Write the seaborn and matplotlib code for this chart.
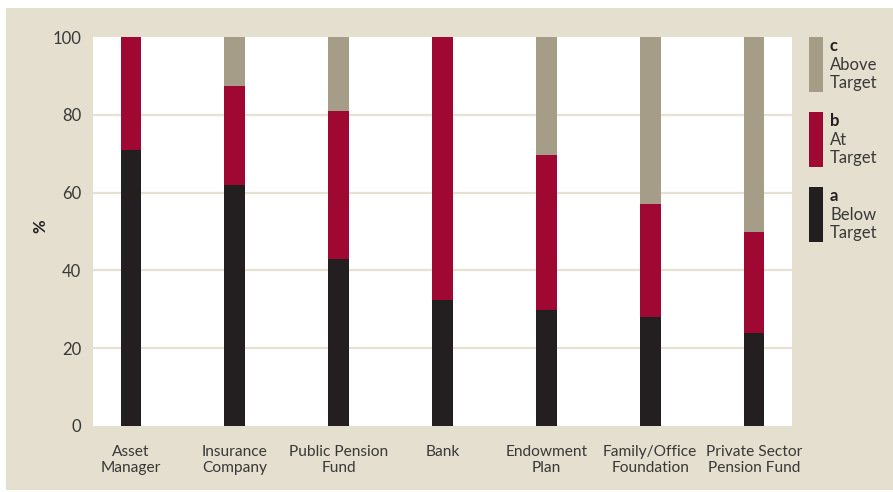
import matplotlib
matplotlib.use("Agg")
import matplotlib.pyplot as plt
from matplotlib.patches import Rectangle
import numpy as np
import pandas as pd
import seaborn as sns

# Share of investors by performance versus target, per investor type (%)
categories = ["Asset\nManager", "Insurance\nCompany", "Public Pension\nFund", "Bank",
              "Endowment\nPlan", "Family/Office\nFoundation", "Private Sector\nPension Fund"]
below_target = [71.0, 62.0, 43.0, 32.5, 29.7, 28.1, 24.0]
at_target = [29.0, 25.5, 38.0, 67.5, 40.0, 29.0, 26.0]
above_target = [0.0, 12.5, 19.0, 0.0, 30.3, 42.9, 50.0]

series_keys = ["a", "b", "c"]
series_names = ["Below\nTarget", "At\nTarget", "Above\nTarget"]
y_ticks = [0, 20, 40, 60, 80, 100]

BEIGE = "#E4DFCE"
GRID = "#E6E1D2"
TEXT = "#3A3838"
colors = {"a": "#231F20", "b": "#A00834", "c": "#A59D87"}

sns.set_theme(style="white")
plt.rcParams["font.family"] = ["Lato", "DejaVu Sans"]

W, H = 893, 492
fig = plt.figure(figsize=(W / 100, H / 100), dpi=100)
fig.patch.set_facecolor("white")

# beige panel behind the whole chart
fig.patches.append(Rectangle((6 / W, 2 / H), 1 - 6 / W, (490 - 8) / H,
                             transform=fig.transFigure, facecolor=BEIGE,
                             edgecolor="none", zorder=0))

ax = fig.add_axes([93 / W, (H - 426) / H, (792 - 93) / W, (426 - 37) / H])
ax.set_facecolor("white")
ax.set_zorder(1)

df = pd.DataFrame({
    "category": categories,
    "a": below_target,
    "b": at_target,
    "c": above_target,
})
df["ab"] = df["a"] + df["b"]
df["abc"] = df["ab"] + df["c"]

# stacked bars drawn as overlaid cumulative totals
for col, key in [("abc", "c"), ("ab", "b"), ("a", "a")]:
    sns.barplot(data=df, x="category", y=col, color=colors[key], width=0.2,
                saturation=1, linewidth=0, ax=ax, zorder=3)

ax.set_xlim(-0.366, 6.366)
ax.set_ylim(0, 100)
ax.set_yticks(y_ticks)
ax.set_yticklabels([str(t) for t in y_ticks])
for t in [20, 40, 60, 80]:
    ax.axhline(t, color=GRID, linewidth=1.6, zorder=1)
ax.grid(False)
for s in ax.spines.values():
    s.set_visible(False)
ax.tick_params(axis="both", length=0, colors=TEXT, labelsize=12)
ax.tick_params(axis="y", pad=8.5)
ax.tick_params(axis="x", pad=13.5, labelsize=11.2)
for lab in ax.get_xticklabels():
    lab.set_linespacing(1.2)
ax.set_xlabel("")
ax.set_ylabel("")

fig.text(40 / W, 1 - 226 / H, "%", rotation=90, ha="center", va="center",
         fontsize=12, fontweight="bold", color="#231F20")

# legend: tall colour swatches with key letter and label
legend_rows = [("c", "Above\nTarget", 37), ("b", "At\nTarget", 112), ("a", "Below\nTarget", 187)]
for key, name, top in legend_rows:
    fig.patches.append(Rectangle((809 / W, 1 - (top + 55) / H), 14 / W, 55 / H,
                                 transform=fig.transFigure, facecolor=colors[key],
                                 edgecolor="none", zorder=2))
    fig.text(830 / W, 1 - (top + 13.7) / H, key, ha="left", va="baseline",
             fontsize=12, fontweight="bold", color="#231F20")
    for i, line in enumerate(name.split("\n")):
        fig.text(830 / W, 1 - (top + 33 + 18.3 * i) / H, line, ha="left",
                 va="baseline", fontsize=12, color=TEXT)

fig.savefig("out.png", dpi=100, facecolor=fig.get_facecolor())
